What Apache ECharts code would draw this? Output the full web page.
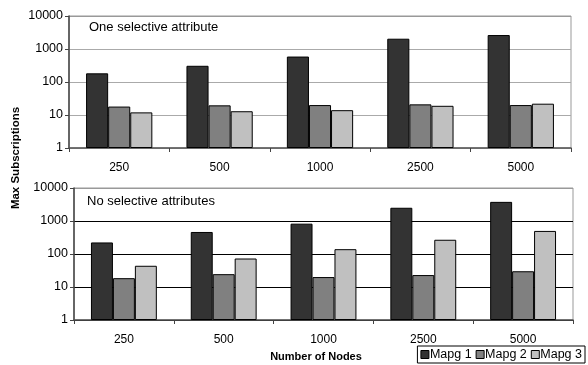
<!DOCTYPE html>
<html>
<head>
<meta charset="utf-8">
<script src="https://cdn.jsdelivr.net/npm/echarts@6/dist/echarts.min.js"></script>
<style>html,body{margin:0;padding:0;background:#fff}#c{width:588px;height:365px}</style>
</head>
<body>
<div id="c"></div>
<script>
var categories = ['250', '500', '1000', '2500', '5000'];
var seriesNames = ['Mapg 1', 'Mapg 2', 'Mapg 3'];
// Top panel: one selective attribute
var topMapg1 = [183, 310, 590, 2050, 2650];
var topMapg2 = [18, 19.6, 20, 21, 20];
var topMapg3 = [12, 13, 14, 19, 22];
// Bottom panel: no selective attributes
var botMapg1 = [224, 465, 830, 2520, 3800];
var botMapg2 = [18.5, 24.5, 20, 23, 30];
var botMapg3 = [44, 73, 140, 270, 500];
var yTicks = [1, 10, 100, 1000, 10000];

var colors = ['#333333', '#808080', '#c0c0c0'];
var font = 'Liberation Sans, Arial, sans-serif';

function yAxis(gi, splitColor, splitType) {
  return {
    type: 'log', logBase: 10, gridIndex: gi, min: yTicks[0], max: yTicks[yTicks.length - 1],
    axisLine: {show: true, lineStyle: {color: '#444', width: 1.5}},
    axisTick: {show: true, length: 4, lineStyle: {color: '#444'}},
    axisLabel: {color: '#000', fontSize: 12.5, fontFamily: font, margin: 6, formatter: function (v) { return String(Math.round(v)); }},
    splitLine: {show: true, lineStyle: {color: splitColor, type: splitType, width: 1}}
  };
}
function xAxis(gi) {
  return {
    type: 'category', gridIndex: gi, data: categories,
    axisLine: {show: true, lineStyle: {color: '#555', width: 1.5}},
    axisTick: {show: true, length: 4, lineStyle: {color: '#444'}},
    axisLabel: {color: '#000', fontSize: 12, fontFamily: font, margin: 14}
  };
}
function bar(name, data, gi, ci) {
  return {
    name: name, type: 'bar', xAxisIndex: gi, yAxisIndex: gi, data: data,
    barGap: '0%', barCategoryGap: '34%',
    itemStyle: {color: colors[ci], borderColor: '#000', borderWidth: 1},
    emphasis: {disabled: true}
  };
}

var chart = echarts.init(document.getElementById('c'), null, {renderer: 'canvas'});
chart.setOption({
  animation: false,
  backgroundColor: '#fff',
  grid: [
    {left: 69, right: 17, top: 16, height: 132, show: true, borderColor: '#999', borderWidth: 1, backgroundColor: 'transparent'},
    {left: 74, right: 15, top: 188, height: 132, show: true, borderColor: '#999', borderWidth: 1, backgroundColor: 'transparent'}
  ],
  xAxis: [xAxis(0), xAxis(1)],
  yAxis: [
    yAxis(0, ['#aaa', '#aaa', '#aaa', '#aaa', '#999'], 'solid'),
    yAxis(1, ['#000', '#000', '#000', '#000', '#999'], 'solid')
  ],
  legend: {
    data: seriesNames, right: 3, bottom: 2, orient: 'horizontal',
    icon: 'rect', itemWidth: 8, itemHeight: 8, itemGap: 4,
    borderColor: '#000', borderWidth: 1, padding: [2, 3, 2, 3],
    textStyle: {color: '#000', fontSize: 12.5, fontFamily: font, padding: [0, 0, 0, -4]},
    itemStyle: {borderColor: '#000', borderWidth: 1}
  },
  series: [
    bar(seriesNames[0], topMapg1, 0, 0),
    bar(seriesNames[1], topMapg2, 0, 1),
    bar(seriesNames[2], topMapg3, 0, 2),
    bar(seriesNames[0], botMapg1, 1, 0),
    bar(seriesNames[1], botMapg2, 1, 1),
    bar(seriesNames[2], botMapg3, 1, 2)
  ],
  graphic: [
    {type: 'text', left: 89, top: 21, style: {text: 'One selective attribute', fontSize: 13, fontFamily: font, fill: '#000'}},
    {type: 'text', left: 87, top: 195, style: {text: 'No selective attributes', fontSize: 13, fontFamily: font, fill: '#000'}},
    {type: 'text', x: 16, y: 158, rotation: Math.PI / 2, style: {text: 'Max Subscriptions', fontSize: 11.5, fontWeight: 'bold', fontFamily: font, fill: '#000', align: 'center', verticalAlign: 'middle'}},
    {type: 'text', x: 316, y: 357, style: {text: 'Number of Nodes', fontSize: 11, fontWeight: 'bold', fontFamily: font, fill: '#000', align: 'center', verticalAlign: 'middle'}}
  ]
});
</script>
</body>
</html>
